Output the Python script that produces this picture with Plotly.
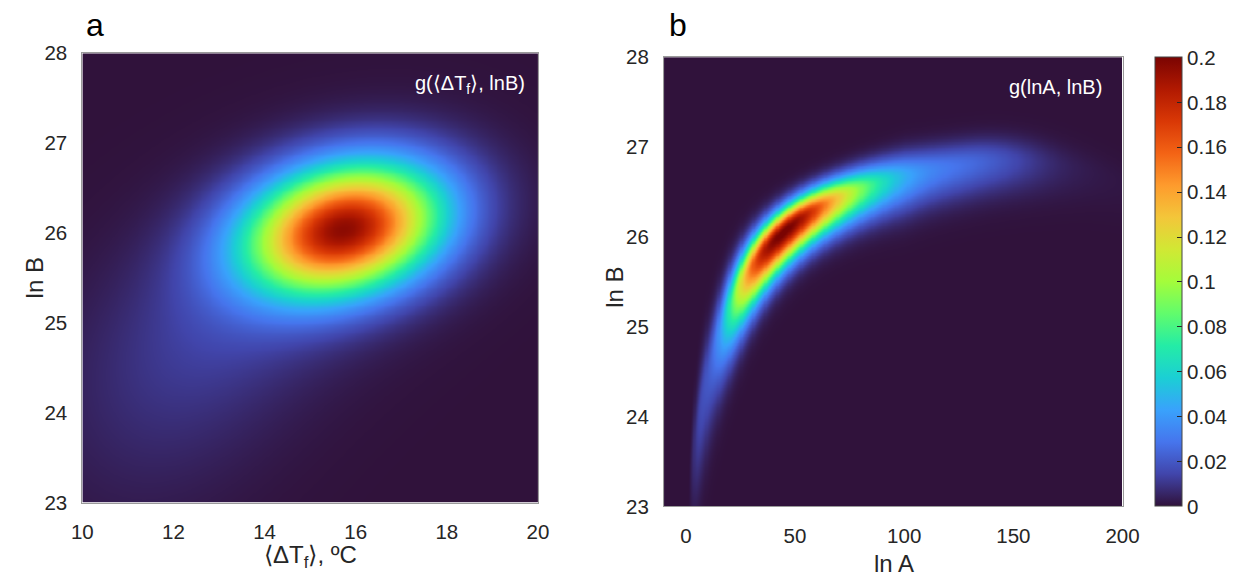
import numpy as np
import plotly.graph_objects as go

# ---------------- values ----------------
# Panel a: g(<dTf>, lnB) ~ sum of Gaussian components
a_x_range = [10, 20]
a_y_range = [23, 28]
a_amp = [0.188, 0.011, 0.006]
a_cx = [15.75, 14.0, 12.0]
a_cy = [26.05, 25.4, 24.3]
a_sx = [1.45, 2.1, 1.8]
a_sy = [0.49, 0.85, 1.0]
a_rho = [0.22, 0.40, 0.30]

# Panel b: g(lnA, lnB) banana-shaped ridge  lnB = B0 + D*(A-a0)/(A-a0+h) - bend
b_x_range = [-10, 200]
b_y_range = [23, 28]
ridge_B0, ridge_a0, ridge_D, ridge_h = 23.0, 0.3, 4.38, 19.15
ridge_bendA, ridge_bendC = 130.0, 0.00008
b_peak, b_peakA = 0.2, 45.0
b_s_left, b_s_right = 0.54, 0.46
b_w0, b_w1, b_kA = 0.10, 0.10, 1.2
b_up_f, b_low_f = 0.82, 1.2
b_low_amp, b_low_A, b_low_s = 0.017, 9.0, 0.75
b_tail_amp, b_tail_A, b_tail_s = 0.012, 135.0, 20.0

a_xticks = [10, 12, 14, 16, 18, 20]
b_xticks = [0, 50, 100, 150, 200]
yticks = [23, 24, 25, 26, 27, 28]
cbar_ticks = [0, 0.02, 0.04, 0.06, 0.08, 0.1, 0.12, 0.14, 0.16, 0.18, 0.2]
cbar_text = ["0", "0.02", "0.04", "0.06", "0.08", "0.1", "0.12", "0.14", "0.16", "0.18", "0.2"]

# ---------------- fields ----------------
def gauss2(X, Y, amp, cx, cy, sx, sy, rho):
    dx = (X - cx) / sx
    dy = (Y - cy) / sy
    q = (dx**2 - 2 * rho * dx * dy + dy**2) / (1 - rho**2)
    return amp * np.exp(-q / 2)

ax_ = np.linspace(a_x_range[0], a_x_range[1], 251)
ay_ = np.linspace(a_y_range[0], a_y_range[1], 251)
AX, AY = np.meshgrid(ax_, ay_)
za = np.zeros_like(AX)
for i in range(len(a_amp)):
    za += gauss2(AX, AY, a_amp[i], a_cx[i], a_cy[i], a_sx[i], a_sy[i], a_rho[i])

bx_ = np.linspace(b_x_range[0], b_x_range[1], 421)
by_ = np.linspace(b_y_range[0], b_y_range[1], 301)
BX, BY = np.meshgrid(bx_, by_)
Apos = np.clip(BX, 1e-3, None)
Ap = BX - ridge_a0
ridge = ridge_B0 + ridge_D * Ap / (Ap + ridge_h)
ridge -= ridge_bendC * np.clip(BX - ridge_bendA, 0, None) ** 2
slope = ridge_D * ridge_h / (Ap + ridge_h) ** 2
wA = np.maximum(b_kA * np.sqrt(Apos), 1.0)
w0 = b_w0 + b_w1 * np.minimum(Apos / 100.0, 1.0) ** 1.5
wB = np.sqrt(w0**2 + (slope * wA) ** 2)
d = BY - ridge
wB = np.where(d > 0, wB * b_up_f, wB * b_low_f)
lr = np.log(Apos / b_peakA)
s = np.where(lr < 0, b_s_left, b_s_right)
amp = b_peak * np.exp(-0.5 * (lr / s) ** 2)
amp += b_low_amp * np.exp(-0.5 * (np.log(Apos / b_low_A) / b_low_s) ** 2)
amp = np.where(BX > 0, amp, 0)
amp += b_tail_amp * np.exp(-0.5 * ((BX - b_tail_A) / b_tail_s) ** 2)
zb = amp * np.exp(-0.5 * (d / wB) ** 2)

# ---------------- figure ----------------
W, H = 1249, 577
def px_x(p): return p / W
def px_y(p): return 1 - p / H

font_fam = "Liberation Sans, Arial, sans-serif"
tick_font = dict(family=font_fam, size=20.5, color="#262626")

fig = go.Figure()
fig.add_trace(go.Heatmap(x=ax_, y=ay_, z=za, colorscale="Turbo", zmin=0, zmax=0.2,
                         zsmooth="best", showscale=False, xaxis="x", yaxis="y"))
fig.add_trace(go.Heatmap(x=bx_, y=by_, z=zb, colorscale="Turbo", zmin=0, zmax=0.2,
                         zsmooth="best", xaxis="x2", yaxis="y2",
                         colorbar=dict(x=px_x(1170), xanchor="left", xref="paper",
                                       y=px_y(515), yanchor="bottom", yref="paper",
                                       len=468 / H, lenmode="fraction", thickness=27,
                                       thicknessmode="pixels", xpad=0, ypad=0,
                                       outlinewidth=1, outlinecolor="#444444",
                                       tickvals=cbar_ticks, ticktext=cbar_text,
                                       ticks="inside", ticklen=5, tickcolor="#262626",
                                       tickfont=tick_font)))

axis_common = dict(showgrid=False, zeroline=False, showline=True, linecolor="#9a9a9a",
                   linewidth=1, mirror=True, ticks="", tickfont=tick_font)

fig.update_layout(
    width=W, height=H, margin=dict(l=0, r=0, t=0, b=0),
    paper_bgcolor="white", plot_bgcolor="white",
    xaxis=dict(domain=[px_x(73), px_x(539)], range=a_x_range, tickvals=a_xticks,
               anchor="y", ticklabelstandoff=11, **axis_common),
    yaxis=dict(domain=[px_y(511), px_y(43)], range=a_y_range, tickvals=yticks,
               anchor="x", ticklabelstandoff=10, **axis_common),
    xaxis2=dict(domain=[px_x(668), px_x(1137)], range=b_x_range, tickvals=b_xticks,
                anchor="y2", ticklabelstandoff=11, **axis_common),
    yaxis2=dict(domain=[px_y(515), px_y(47)], range=b_y_range, tickvals=yticks,
                anchor="x2", ticklabelstandoff=10, **axis_common),
    showlegend=False,
)

ann_font = dict(family=font_fam, size=24, color="#262626")
anns = [
    dict(text="a", x=px_x(75), y=px_y(34), xanchor="left", yanchor="bottom",
         font=dict(family=font_fam, size=32, color="black")),
    dict(text="b", x=px_x(671), y=px_y(34), xanchor="left", yanchor="bottom",
         font=dict(family=font_fam, size=32, color="black")),
    dict(text="g(⟨ΔT<sub>f</sub>⟩, lnB)", x=px_x(528), y=px_y(76), xanchor="right",
         yanchor="middle", font=dict(family=font_fam, size=20, color="white")),
    dict(text="g(lnA, lnB)", x=px_x(1118), y=px_y(78), xanchor="right",
         yanchor="middle", font=dict(family=font_fam, size=20, color="white")),
    dict(text="⟨ΔT<sub>f</sub>⟩, ºC", x=px_x(306), y=px_y(567), xanchor="center",
         yanchor="middle", font=ann_font),
    dict(text="ln A", x=px_x(903), y=px_y(574), xanchor="center",
         yanchor="middle", font=ann_font),
    dict(text="ln B", x=px_x(25), y=px_y(277), xanchor="center", yanchor="middle",
         textangle=-90, font=ann_font),
    dict(text="ln B", x=px_x(617), y=px_y(287), xanchor="center", yanchor="middle",
         textangle=-90, font=ann_font),
]
for a in anns:
    a.update(xref="paper", yref="paper", showarrow=False)
fig.update_layout(annotations=anns)

fig.write_html("out.html")
